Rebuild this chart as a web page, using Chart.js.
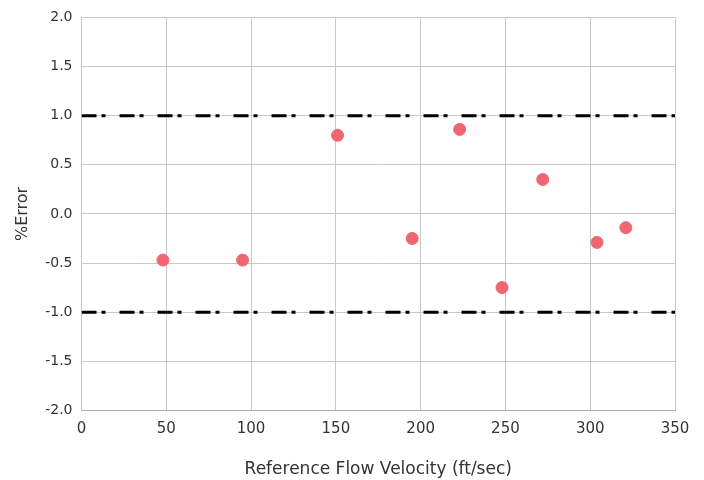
<!DOCTYPE html>
<html>
  <head>
    <title>%Error vs reference flow velocity</title>
    <script src="https://cdn.jsdelivr.net/npm/chart.js"></script>
    <style>
      body { margin: 0; background: #fff; }
      #wrap { width: 704px; height: 480px; }
    </style>
  </head>
  <body>
    <div id="wrap">
      <canvas id="myChart"></canvas>
    </div>
    <script>
      'use strict'
      // values
      const velocity = [48, 95, 151, 195, 223, 248, 272, 304, 321];
      const pctError = [-0.47, -0.47, 0.80, -0.25, 0.86, -0.75, 0.35, -0.29, -0.14];
      const limitX = [0, 350];
      const upperLimit = [1.0, 1.0];
      const lowerLimit = [-1.0, -1.0];

      const font = 'DejaVu Sans';
      const ctx = document.getElementById('myChart');

      function limitLine(ys) {
        return {
          type: 'line',
          data: limitX.map((x, i) => ({ x: x, y: ys[i] })),
          borderColor: '#000',
          borderWidth: 3,
          borderDash: [15, 5, 4, 14],
          pointRadius: 0,
          fill: false,
        };
      }

      new Chart(ctx, {
        type: 'scatter',
        data: {
          datasets: [
            {
              data: velocity.map((x, i) => ({ x: x, y: pctError[i] })),
              backgroundColor: '#EF6670',
              borderColor: '#EF6670',
              pointRadius: 6,
            },
            limitLine(upperLimit),
            limitLine(lowerLimit),
          ]
        },
        options: {
          responsive: true,
          maintainAspectRatio: false,
          animation: false,
          layout: { padding: { top: 5, right: 29, left: 9, bottom: 0 } },
          plugins: {
            legend: { display: false },
            tooltip: { enabled: false },
          },
          scales: {
            x: {
              type: 'linear',
              min: 0,
              max: 350,
              ticks: { stepSize: 50, color: '#333', padding: 10, font: { family: font, size: 15 } },
              grid: { color: '#c8c8c8', drawTicks: false },
              border: { color: '#b0b0b0' },
              title: {
                display: true,
                text: 'Reference Flow Velocity (ft/sec)',
                color: '#333',
                font: { family: font, size: 17, lineHeight: 0.8 },
                padding: { top: 14 },
              },
            },
            y: {
              min: -2,
              max: 2,
              ticks: {
                stepSize: 0.5,
                color: '#333',
                padding: 9,
                font: { family: font, size: 14 },
                callback: value => value.toFixed(1),
              },
              grid: { color: '#c8c8c8', drawTicks: false },
              border: { color: '#c8c8c8' },
              title: {
                display: true,
                text: '%Error',
                color: '#333',
                font: { family: font, size: 16 },
              },
            }
          }
        }
      });
    </script>
  </body>
</html>
